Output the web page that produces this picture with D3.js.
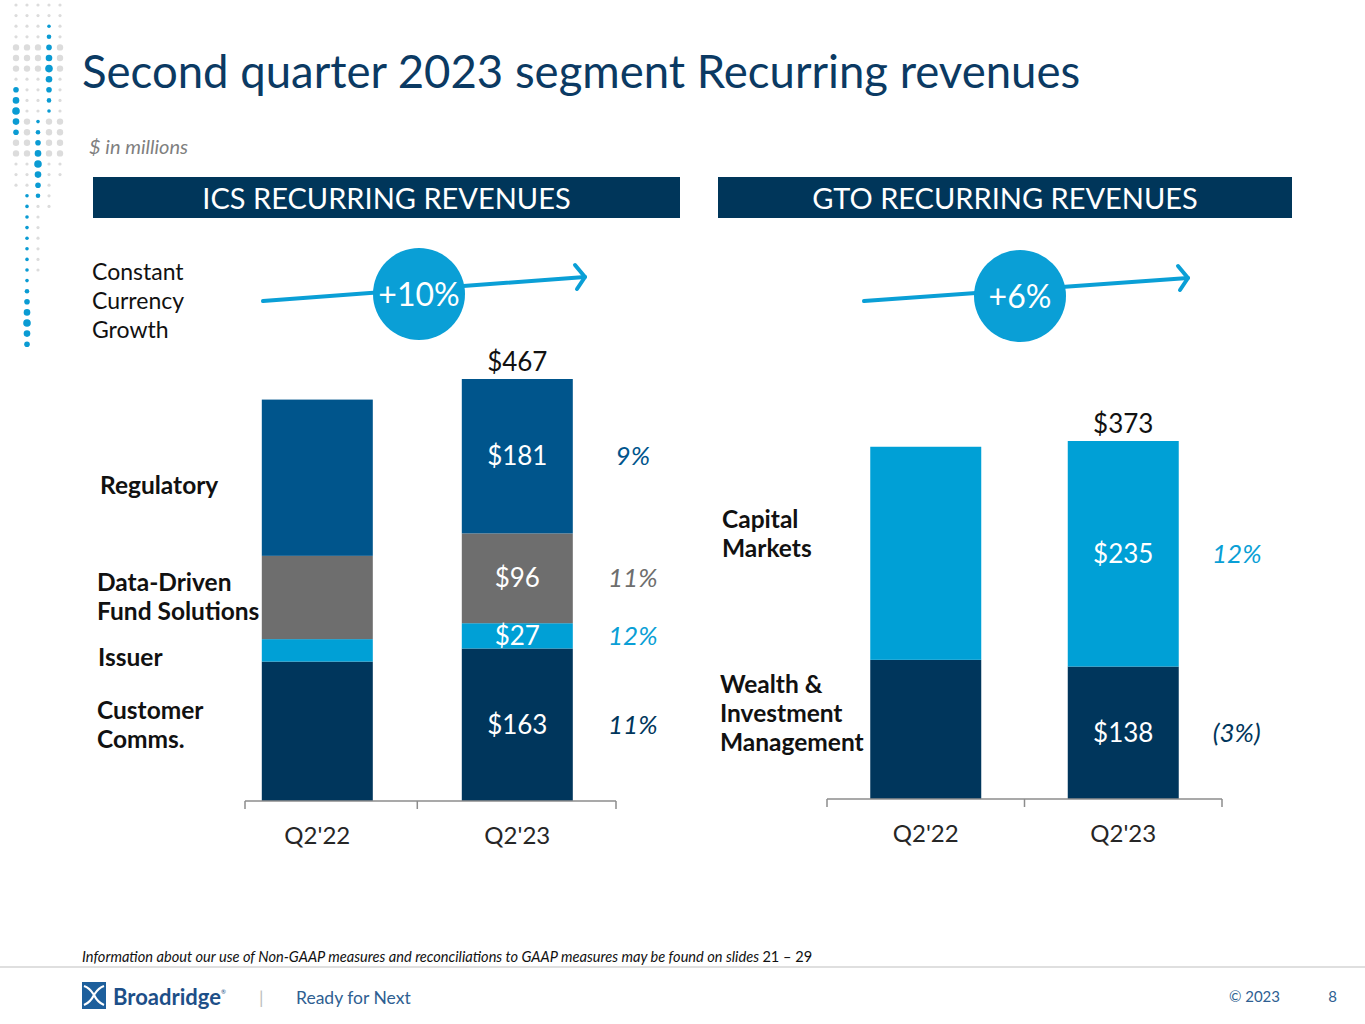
<!DOCTYPE html>
<html>
<head>
<meta charset="utf-8">
<script src="https://cdn.jsdelivr.net/npm/d3@7"></script>
<style>
  html, body { margin: 0; padding: 0; background: #fff; }
  svg { display: block; font-family: Lato, "Open Sans", sans-serif; }
</style>
</head>
<body>
<script>
// data
const quarters = ["Q2'22", "Q2'23"];

const icsKeys = ['customer', 'issuer', 'dataDriven', 'regulatory'];
const icsCustomerComms = [149, 163];
const icsIssuer = [24, 27];
const icsDataDriven = [89, 96];
const icsRegulatory = [167, 181];
const icsGrowth = ['11%', '12%', '11%', '9%'];
const icsAxisMax = 451;

const gtoKeys = ['wealth', 'capital'];
const gtoWealth = [145, 138];
const gtoCapital = [222, 235];
const gtoGrowth = ['(3%)', '12%'];
const gtoAxisMax = 373;

const ccGrowth = ['+10%', '+6%'];

const width = 1365;
const height = 1024;

const colors = {
    customer: '#00365c',
    issuer: '#00a0d6',
    dataDriven: '#6e6e6e',
    regulatory: '#00558c',
    wealth: '#00365c',
    capital: '#00a0d6'
};

const svg = d3.select('body')
    .append('svg')
    .attr('width', width)
    .attr('height', height);

// ---- decorative dots top-left
const dotCols = [16, 27, 38, 49, 60];
const blueRuns = [
    { col: 0, from: 8, to: 12, peak: 10 },
    { col: 1, from: 18, to: 32, peak: 30 },
    { col: 2, from: 11, to: 18, peak: 15 },
    { col: 3, from: 2, to: 10, peak: 6 }
];
const grayRows = [18, 26, 26, 20, 17];
const dots = svg.append('g');
dotCols.forEach((cx, ci) => {
    for (let r = 0; r < 33; r++) {
        const cy = 5 + r * 10.6;
        const run = blueRuns.find(b => b.col === ci && r >= b.from && r <= b.to);
        if (run) {
            const rad = 3.8 - Math.min(2, Math.abs(r - run.peak) * 0.5);
            dots.append('circle').attr('cx', cx).attr('cy', cy).attr('r', rad).attr('fill', '#0a9bd3');
        } else if (r < grayRows[ci]) {
            const bump = (r >= 4 && r <= 6) || (r >= 11 && r <= 14) ? 3.2 : 1.6;
            dots.append('circle').attr('cx', cx).attr('cy', cy).attr('r', bump)
                .attr('fill', '#dcdcdc');
        }
    }
});

// ---- title block
svg.append('text')
    .attr('x', 82).attr('y', 88)
    .attr('font-size', 45.5)
    .attr('fill', '#0b3a63')
    .text('Second quarter 2023 segment Recurring revenues');

svg.append('text')
    .attr('x', 89).attr('y', 154)
    .attr('font-size', 20)
    .attr('font-style', 'italic')
    .attr('fill', '#7f7f7f')
    .text('$ in millions');

const headers = [
    { x: 93, w: 587, label: 'ICS RECURRING REVENUES' },
    { x: 718, w: 574, label: 'GTO RECURRING REVENUES' }
];
headers.forEach(h => {
    svg.append('rect')
        .attr('x', h.x).attr('y', 177)
        .attr('width', h.w).attr('height', 41)
        .attr('fill', '#00365a');
    svg.append('text')
        .attr('x', h.x + h.w / 2).attr('y', 209)
        .attr('text-anchor', 'middle')
        .attr('font-size', 29)
        .attr('fill', '#fff')
        .text(h.label);
});

// ---- constant currency growth arrows
const ccText = svg.append('text')
    .attr('font-size', 23)
    .attr('fill', '#111');
['Constant', 'Currency', 'Growth'].forEach((t, i) => {
    ccText.append('tspan').attr('x', 92).attr('y', 280 + i * 29).text(t);
});

const arrows = [
    { x1: 263, y1: 301, x2: 585, y2: 277, cx: 419, cy: 294 },
    { x1: 864, y1: 301, x2: 1188, y2: 278, cx: 1020, cy: 296 }
];
arrows.forEach((a, i) => {
    const g = svg.append('g');
    g.append('line')
        .attr('x1', a.x1).attr('y1', a.y1)
        .attr('x2', a.x2).attr('y2', a.y2)
        .attr('stroke', '#0a9fd6').attr('stroke-width', 4)
        .attr('stroke-linecap', 'round');
    g.append('path')
        .attr('d', `M${a.x2 - 10},${a.y2 - 12}L${a.x2},${a.y2}L${a.x2 - 8},${a.y2 + 12}`)
        .attr('fill', 'none')
        .attr('stroke', '#0a9fd6').attr('stroke-width', 4)
        .attr('stroke-linecap', 'round').attr('stroke-linejoin', 'round');
    g.append('circle')
        .attr('cx', a.cx).attr('cy', a.cy).attr('r', 46)
        .attr('fill', '#0a9fd6');
    g.append('text')
        .attr('x', a.cx).attr('y', a.cy + 12)
        .attr('text-anchor', 'middle')
        .attr('font-size', 32)
        .attr('fill', '#fff')
        .text(ccGrowth[i]);
});

// ---- stacked bar chart helper
function stackedChart(opts) {
    const rows = quarters.map((q, i) => {
        const row = { quarter: q };
        opts.keys.forEach(k => { row[k] = opts.series[k][i]; });
        return row;
    });
    const stacked = d3.stack().keys(opts.keys)(rows);

    const x = d3.scaleBand()
        .domain(quarters)
        .range(opts.xRange)
        .paddingInner(opts.padInner)
        .paddingOuter(opts.padOuter)
        .align(opts.align);

    const y = d3.scaleLinear()
        .domain([0, opts.yMax])
        .range(opts.yRange)
        .clamp(true);

    const g = svg.append('g');

    g.selectAll('g.layer')
        .data(stacked)
        .join('g')
        .attr('class', 'layer')
        .attr('fill', d => colors[d.key])
        .selectAll('rect')
        .data(d => d)
        .join('rect')
        .attr('x', d => x(d.data.quarter))
        .attr('y', d => y(d[1]))
        .attr('width', x.bandwidth())
        .attr('height', d => y(d[0]) - y(d[1]));

    // axis: baseline with ticks at category boundaries
    const base = opts.yRange[0];
    const mid = (x(quarters[0]) + x.bandwidth() + x(quarters[1])) / 2;
    const axis = g.append('g').attr('stroke', '#8c8c8c').attr('stroke-width', 1.5);
    axis.append('line')
        .attr('x1', opts.xRange[0]).attr('x2', opts.xRange[1])
        .attr('y1', base).attr('y2', base);
    [opts.xRange[0], mid, opts.xRange[1]].forEach(tx => {
        axis.append('line')
            .attr('x1', tx).attr('x2', tx)
            .attr('y1', base).attr('y2', base + 8);
    });
    g.selectAll('text.tick')
        .data(quarters)
        .join('text')
        .attr('class', 'tick')
        .attr('x', d => x(d) + x.bandwidth() / 2)
        .attr('y', base + 43)
        .attr('text-anchor', 'middle')
        .attr('font-size', 24)
        .attr('fill', '#262626')
        .text(d => d);

    // values inside the current-quarter bar + growth to the right
    const cur = quarters[1];
    const cx = x(cur) + x.bandwidth() / 2;
    stacked.forEach((layer, li) => {
        const d = layer[1];
        const yc = (y(d[0]) + y(d[1])) / 2;
        g.append('text')
            .attr('x', cx).attr('y', yc + 9)
            .attr('text-anchor', 'middle')
            .attr('font-size', 26)
            .attr('fill', '#fff')
            .text('$' + (d[1] - d[0]));
        g.append('text')
            .attr('x', x(cur) + x.bandwidth() + opts.growthDx).attr('y', yc + 9)
            .attr('text-anchor', 'middle')
            .attr('font-size', 26)
            .attr('font-style', 'italic')
            .attr('fill', opts.growthColors[li])
            .text(opts.growth[li]);
    });

    const total = d3.sum(opts.keys, k => opts.series[k][1]);
    g.append('text')
        .attr('x', cx)
        .attr('y', y(total) - 8)
        .attr('text-anchor', 'middle')
        .attr('font-size', 26)
        .attr('fill', '#111')
        .text('$' + total);

    // segment names at the left of the first bar
    opts.names.forEach(n => {
        const t = g.append('text')
            .attr('font-size', 24.5)
            .attr('font-weight', 'bold')
            .attr('fill', '#111');
        n.lines.forEach((ln, i) => {
            t.append('tspan')
                .attr('x', n.x)
                .attr('y', n.y + i * 29)
                .text(ln);
        });
    });
}

stackedChart({
    keys: icsKeys,
    series: {
        customer: icsCustomerComms,
        issuer: icsIssuer,
        dataDriven: icsDataDriven,
        regulatory: icsRegulatory
    },
    growth: icsGrowth,
    growthColors: ['#00365c', '#0a9fd6', '#6e6e6e', '#00558c'],
    growthDx: 60,
    xRange: [245, 616],
    padInner: 0.445,
    padOuter: 0.15,
    align: 0.28,
    yMax: icsAxisMax,
    yRange: [801, 379],
    names: [
        { x: 100, y: 494, lines: ['Regulatory'] },
        { x: 97, y: 591, lines: ['Data-Driven', 'Fund Solutions'] },
        { x: 98, y: 666, lines: ['Issuer'] },
        { x: 97, y: 719, lines: ['Customer', 'Comms.'] }
    ]
});

stackedChart({
    keys: gtoKeys,
    series: {
        wealth: gtoWealth,
        capital: gtoCapital
    },
    growth: gtoGrowth,
    growthColors: ['#00365c', '#0a9fd6'],
    growthDx: 58,
    xRange: [827, 1222],
    padInner: 0.438,
    padOuter: 0.219,
    align: 0.5,
    yMax: gtoAxisMax,
    yRange: [799, 441],
    names: [
        { x: 722, y: 528, lines: ['Capital', 'Markets'] },
        { x: 720, y: 693, lines: ['Wealth &', 'Investment', 'Management'] }
    ]
});

// ---- footer
const note = svg.append('text')
    .attr('x', 82).attr('y', 962)
    .attr('font-size', 14.6)
    .attr('fill', '#111');
note.append('tspan')
    .attr('font-style', 'italic')
    .text('Information about our use of Non-GAAP measures and reconciliations to GAAP measures may be found on slides ');
note.append('tspan').text('21 \u2013 29');

svg.append('line')
    .attr('x1', 0).attr('x2', width)
    .attr('y1', 967).attr('y2', 967)
    .attr('stroke', '#d4d4d4').attr('stroke-width', 1.5);

const logo = svg.append('g').attr('transform', 'translate(82,982)');
logo.append('rect').attr('width', 24).attr('height', 27).attr('fill', '#1d5f9c');
logo.append('path')
    .attr('d', 'M2,4 C8,6 10,10 12,13 C14,10 16,6 22,4 M12,13 C10,17 7,21 2,23 M12,13 C14,17 17,21 22,23')
    .attr('fill', 'none').attr('stroke', '#fff').attr('stroke-width', 2.2);
logo.append('text')
    .attr('x', 31).attr('y', 23)
    .attr('font-size', 22)
    .attr('font-weight', 'bold')
    .attr('fill', '#1d4f88')
    .text('Broadridge');
logo.append('text')
    .attr('x', 139).attr('y', 12)
    .attr('font-size', 6)
    .attr('fill', '#1d4f88')
    .text('\u00ae');
svg.append('text')
    .attr('x', 259).attr('y', 1004)
    .attr('font-size', 18)
    .attr('fill', '#bdbdbd')
    .text('|');
svg.append('text')
    .attr('x', 296).attr('y', 1004)
    .attr('font-size', 17.5)
    .attr('fill', '#2f5f92')
    .text('Ready for Next');
svg.append('text')
    .attr('x', 1280).attr('y', 1002)
    .attr('text-anchor', 'end')
    .attr('font-size', 15)
    .attr('fill', '#2f5f92')
    .text('\u00a9 2023');
svg.append('text')
    .attr('x', 1337).attr('y', 1002)
    .attr('text-anchor', 'end')
    .attr('font-size', 15)
    .attr('fill', '#2f5f92')
    .text('8');
</script>
</body>
</html>
